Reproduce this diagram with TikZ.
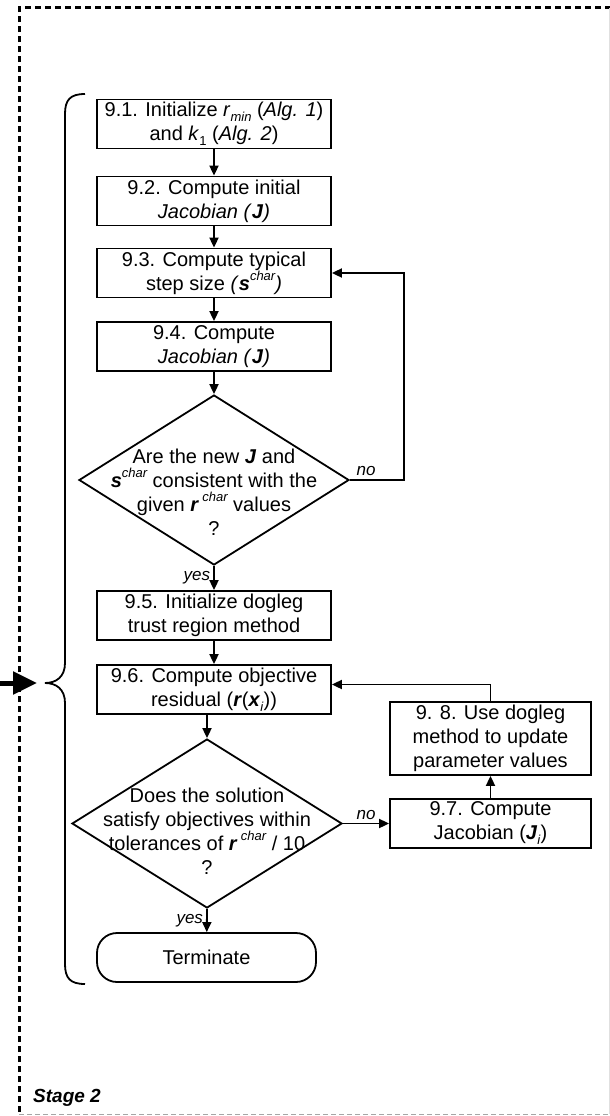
\documentclass[tikz,border=0pt]{standalone}
\usepackage{fontspec}
\setmainfont{Liberation Sans}
\usetikzlibrary{positioning}
\usetikzlibrary{shapes.geometric}
\usetikzlibrary{arrows.meta}

\newcommand{\vbf}[1]{\textbf{\textit{#1}}}
\newcommand{\supsc}[1]{\raisebox{0.5em}{\fontsize{13}{13}\selectfont\itshape #1}}
\newcommand{\subsc}[1]{\raisebox{-0.25em}{\fontsize{13}{13}\selectfont #1}}

\begin{document}
\begin{tikzpicture}[x=1pt, y=-1pt, >={Triangle[length=10pt,width=9pt]},
    box/.style={draw, line width=1.8pt, minimum width=234pt, minimum height=49pt,
        inner sep=1pt, align=center, font=\fontsize{20}{24}\selectfont},
    decision/.style={diamond, draw, line width=1.8pt, minimum width=270pt,
        minimum height=170pt, inner sep=0pt},
    dtext/.style={align=center, inner sep=0pt, font=\fontsize{20}{24}\selectfont},
    flow/.style={line width=1.8pt},
    answer/.style={font=\fontsize{17}{17}\selectfont\itshape, inner sep=3pt}]
    \useasboundingbox (0, 0) rectangle (610, 1116);

    % stage frame
    \draw [line width=3pt, dash pattern=on 6pt off 4pt] (19, 1112) -- (19, 8) -- (610, 8);
    \draw [gray!70, line width=0.8pt, dash pattern=on 5pt off 3pt] (19, 1114) -- (610, 1114);
    \draw [black!12, line width=0.8pt] (609, 8) -- (609, 1114);
    \path (33, 1098) node [anchor=west, inner sep=0pt, font=\fontsize{19}{19}\selectfont\bfseries\itshape] (stage) {Stage 2};

    % main column
    \path (214, 124) node [box] (s91) {9.1. Initialize \textit{r}\subsc{\textit{min}} (\textit{Alg. 1})\\and \textit{k}\subsc{1} (\textit{Alg. 2})};
    \path (214, 201) node [box] (s92) {9.2. Compute initial\\\textit{Jacobian (}\vbf{J}\textit{)}};
    \path (214, 273) node [box] (s93) {9.3. Compute typical\\step size \textit{(}\vbf{s}\supsc{char}\textit{)}};
    \path (214, 346.5) node [box] (s94) {9.4. Compute\\\textit{Jacobian (}\vbf{J}\textit{)}};
    \path (214, 480) node [decision] (d1) {};
    \path ([yshift=-12pt]d1.center) node [dtext] (d1txt) {Are the new \vbf{J} and\\\vbf{s}\supsc{char} consistent with the\\given \vbf{r}\,\supsc{char} values\\?};
    \path (214, 615.5) node [box] (s95) {9.5. Initialize dogleg\\trust region method};
    \path (214, 689.5) node [box] (s96) {9.6. Compute objective\\residual (\vbf{r}(\vbf{x}\subsc{\textit{i}}))};
    \path (207, 823.5) node [decision, minimum height=169pt] (d2) {};
    \path ([yshift=-7.5pt]d2.center) node [dtext] (d2txt) {Does the solution\\satisfy objectives within\\tolerances of \vbf{r}\,\supsc{char} / 10\\?};
    \path (206.5, 957.5) node [box, minimum width=219pt, rounded corners=20pt] (term) {Terminate};

    % side branch
    \path (490.5, 823.5) node [box, minimum width=201pt] (s97) {9.7. Compute\\Jacobian (\vbf{J}\subsc{\textit{i}})};
    \path (490.5, 738.5) node [box, minimum width=201pt, minimum height=73pt] (s98) {9. 8. Use dogleg\\method to update\\parameter values};

    \draw [->, flow] (s91) -- (s92);
    \draw [->, flow] (s92) -- (s93);
    \draw [->, flow] (s93) -- (s94);
    \draw [->, flow] (s94) -- (d1.north);
    \draw [->, flow] (d1.east) -- ++(54, 0) node[answer, pos=0.3, above] {no} |- (s93.east);
    \draw [->, flow] (d1.south) -- (s95) node[answer, midway, left] {yes};
    \draw [->, flow] (s95) -- (s96);
    \draw [->, flow] (d2.north |- s96.south) -- (d2.north);
    \draw [->, flow] (d2.south) -- (term) node[answer, midway, left] {yes};
    \draw [->, flow] (d2.east) -- (s97) node[answer, midway, above] {no};
    \draw [->, flow] (s97) -- (s98);
    \draw [->, flow] (s98.north) |- ([yshift=5pt]s96.east);

    % brace and stage entry
    \draw [line width=1.8pt] (85, 94) .. controls (70, 94) and (65, 100) .. (65, 114) -- (65, 663)
        .. controls (65, 677) and (56, 683) .. (45, 683)
        .. controls (56, 683) and (65, 689) .. (65, 703) -- (65, 964)
        .. controls (65, 978) and (70, 984) .. (85, 984);
    \coordinate (entry) at (0, 683);
    \coordinate (brtip) at (45, 683);
    \draw [-{Triangle[length=24pt,width=22pt]}, line width=5pt, shorten >=8pt] (entry) -- (brtip);
\end{tikzpicture}
\end{document}
